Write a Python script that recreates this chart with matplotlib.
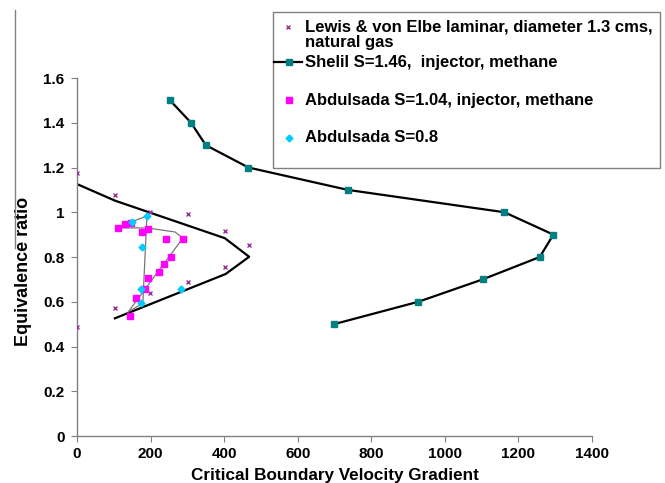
import matplotlib
matplotlib.use("Agg")
import matplotlib.pyplot as plt
from matplotlib.lines import Line2D
from matplotlib.patches import Rectangle

plt.rcParams['font.family'] = ['Liberation Sans', 'DejaVu Sans']
plt.rcParams['font.weight'] = 'bold'

# Lewis & von Elbe laminar (markers only)
lewis_x = [0, 0, 103, 198, 303, 402, 468, 402, 303, 198, 103]
lewis_y = [1.177, 0.486, 1.077, 1.003, 0.991, 0.918, 0.854, 0.757, 0.69, 0.638, 0.571]

# curve through Lewis data
lewis_fit_x = [0, 103, 402, 468, 404, 103]
lewis_fit_y = [1.126, 1.052, 0.884, 0.801, 0.724, 0.526]

# Shelil S=1.46
shelil_x = [253, 310, 350, 466, 736, 1162, 1295, 1258, 1103, 928, 699]
shelil_y = [1.5, 1.4, 1.3, 1.2, 1.1, 1.0, 0.9, 0.8, 0.7, 0.6, 0.5]

# Abdulsada S=1.04
abd104_x = [112, 130, 146, 176, 194, 242, 289, 255, 237, 224, 194, 185, 160, 144]
abd104_y = [0.928, 0.946, 0.953, 0.913, 0.927, 0.879, 0.879, 0.799, 0.767, 0.734, 0.708, 0.656, 0.615, 0.538]
abd104_fit_x = [117, 190, 266, 288, 139]
abd104_fit_y = [0.93, 0.93, 0.912, 0.885, 0.554]

# Abdulsada S=0.8
abd08_x = [150, 189, 177, 174, 174, 282]
abd08_y = [0.956, 0.985, 0.845, 0.656, 0.593, 0.656]
abd08_fit_x = [133, 190, 179, 144]
abd08_fit_y = [0.948, 0.983, 0.594, 0.559]

labels = ["Lewis & von Elbe laminar, diameter 1.3 cms,\nnatural gas",
          "Shelil S=1.46,  injector, methane",
          "Abdulsada S=1.04, injector, methane",
          "Abdulsada S=0.8"]

fig = plt.figure(figsize=(6.65, 4.83), dpi=100)
ax = fig.add_axes([0.1158, 0.0973, 0.7744, 0.7412])

ax.plot(lewis_fit_x, lewis_fit_y, color='black', lw=1.6, zorder=2)
ax.plot(abd104_fit_x, abd104_fit_y, color='#777777', lw=0.9, zorder=2)
ax.plot(abd08_fit_x, abd08_fit_y, color='#777777', lw=0.9, zorder=2)
ax.plot(shelil_x, shelil_y, color='black', lw=1.6, marker='s', ms=4.5,
        mfc='#008080', mec='#008080', zorder=3)
ax.plot(lewis_x, lewis_y, ls='none', marker='x', ms=3.5, mew=1.0, color='#993399', zorder=4)
ax.plot(abd104_x, abd104_y, ls='none', marker='s', ms=4.5, color='#ff00ff', zorder=4)
ax.plot(abd08_x, abd08_y, ls='none', marker='D', ms=3.5, color='#00ccff', zorder=5)

ax.set_xlim(0, 1400)
ax.set_ylim(0, 1.6)
ax.set_xticks(range(0, 1401, 200))
ax.set_yticks([0, 0.2, 0.4, 0.6, 0.8, 1.0, 1.2, 1.4, 1.6])
ax.set_yticklabels(['0', '0.2', '0.4', '0.6', '0.8', '1', '1.2', '1.4', '1.6'])
for s in ['top', 'right']:
    ax.spines[s].set_visible(False)
for s in ['left', 'bottom']:
    ax.spines[s].set_color('#808080')
    ax.spines[s].set_linewidth(1.0)
ax.tick_params(direction='out', length=4, color='#808080', labelsize=11)
ax.tick_params(axis='x', pad=4)
ax.tick_params(axis='y', pad=5)
ax.set_xlabel('Critical Boundary Velocity Gradient', fontsize=12.3, fontweight='bold', va='center')
ax.set_ylabel('Equivalence ratio', fontsize=13, fontweight='bold', va='center')
ax.xaxis.set_label_coords(0.5, -0.109)
ax.yaxis.set_label_coords(-0.103, 0.461)

# legend box drawn by hand (Excel style spacing)
W, H = 665.0, 483.0
def fx(px):
    return px / W
def fy(py):
    return 1 - py / H

fig.add_artist(Rectangle((fx(273), fy(168)), fx(660) - fx(273), fy(12) - fy(168),
                         transform=fig.transFigure, fill=False, edgecolor='#808080', lw=1.0))
fig.add_artist(Line2D([fx(288)], [fy(27)], ls='none', marker='x', ms=3.5, mew=1.0,
                      color='#993399', transform=fig.transFigure))
fig.add_artist(Line2D([fx(274), fx(302)], [fy(62), fy(62)], color='black', lw=1.6,
                      transform=fig.transFigure))
fig.add_artist(Line2D([fx(289)], [fy(62)], ls='none', marker='s', ms=4.5,
                      color='#008080', transform=fig.transFigure))
fig.add_artist(Line2D([fx(289)], [fy(100)], ls='none', marker='s', ms=4.5,
                      color='#ff00ff', transform=fig.transFigure))
fig.add_artist(Line2D([fx(289)], [fy(138)], ls='none', marker='D', ms=3.5,
                      color='#00ccff', transform=fig.transFigure))
lewis_lines = labels[0].split('\n')
for lab, py in zip(lewis_lines + labels[1:], [27, 42, 62, 100, 138]):
    fig.text(fx(305), fy(py), lab, fontsize=12, fontweight='bold', va='center')

# stray border line at the left edge of the scan
fig.add_artist(Line2D([fx(15), fx(15)], [fy(10), fy(248)], color='#808080', lw=1.0,
                      transform=fig.transFigure))

fig.savefig('out.png', dpi=100)
